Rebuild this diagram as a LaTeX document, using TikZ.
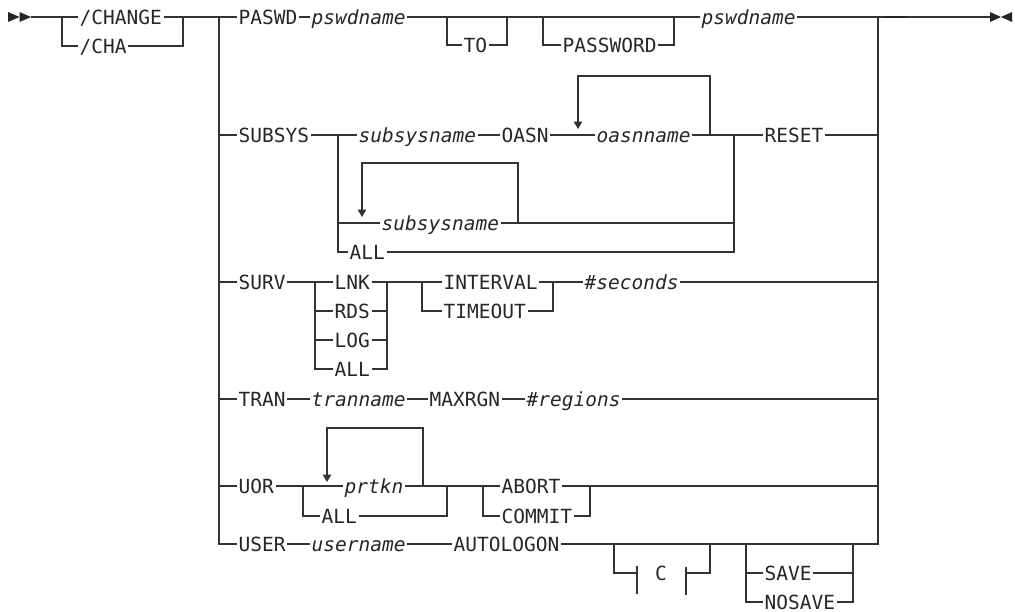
\documentclass[tikz,border=0pt]{standalone}
\usepackage{fontspec}
\setmainfont{DejaVu Sans Mono}
\usetikzlibrary{arrows.meta}
\begin{document}
\begin{tikzpicture}[x=1pt,y=-1pt,
  rr/.style={line width=1.2pt, draw=black!80, line cap=butt, line join=miter},
  loopar/.style={rr, -{Triangle[width=8.5pt,length=7.5pt]}},
  kw/.style={anchor=west, inner xsep=1.5pt, inner ysep=0pt, text height=14.2pt, text depth=0pt,
    text=black!85, font=\fontsize{19.5pt}{20pt}\selectfont},
  var/.style={kw, font=\fontsize{19.5pt}{20pt}\selectfont\itshape},
  endmark/.style={fill=black!85, draw=none}]
\useasboundingbox (0,0) rectangle (1015,611);

% ---- junction coordinates
\coordinate (jA) at (62,17);   \coordinate (jB) at (183,17);
\coordinate (jM) at (219,17);  \coordinate (jR) at (878,17);
\coordinate (jEnd) at (990,17);
\coordinate (tS) at (447,17);  \coordinate (tJ) at (507,17);
\coordinate (pS) at (543,17);  \coordinate (pJ) at (674,17);
\coordinate (sS) at (338,135); \coordinate (sJ) at (734,135);
\coordinate (oL) at (710,135); \coordinate (oT) at (578,76); \coordinate (oA) at (578,129);
\coordinate (s2R) at (518,223); \coordinate (s2T) at (362,163); \coordinate (s2A) at (362,217);
\coordinate (vS) at (315,282); \coordinate (vJ) at (387,282);
\coordinate (iS) at (422,282); \coordinate (iJ) at (553,282);
\coordinate (uS) at (303,486); \coordinate (uJ) at (447,486);
\coordinate (uR) at (423,486); \coordinate (uT) at (327,428); \coordinate (uA) at (327,482);
\coordinate (aS) at (483,486); \coordinate (aJ) at (590,486);
\coordinate (cS) at (614,544); \coordinate (cJ) at (710,544);
\coordinate (cbL) at (637,573); \coordinate (cbR) at (686,573);
\coordinate (svS) at (746,544); \coordinate (svJ) at (853,544);

% ---- nodes
\node[kw]  (change) at (78,17) {/CHANGE};
\node[kw]  (cha) at (78,46) {/CHA};
\node[kw]  (paswd) at (237,17) {PASWD};
\node[var] (pswd1) at (310,17) {pswdname};
\node[kw]  (to) at (462,45) {TO};
\node[kw]  (password) at (561,45) {PASSWORD};
\node[var] (pswd2) at (700,17) {pswdname};
\node[kw]  (subsys) at (237,135) {SUBSYS};
\node[var] (ssn1) at (357,135) {subsysname};
\node[kw]  (oasn) at (500,135) {OASN};
\node[var] (oasnname) at (595,135) {oasnname};
\node[kw]  (reset) at (763,135) {RESET};
\node[var] (ssn2) at (380,223) {subsysname};
\node[kw]  (sall) at (348,252) {ALL};
\node[kw]  (surv) at (237,282) {SURV};
\node[kw]  (lnk) at (333,282) {LNK};
\node[kw]  (rds) at (333,311) {RDS};
\node[kw]  (log) at (333,340) {LOG};
\node[kw]  (vall) at (333,369) {ALL};
\node[kw]  (interval) at (442,282) {INTERVAL};
\node[kw]  (timeout) at (442,311) {TIMEOUT};
\node[var] (seconds) at (583,282) {\#seconds};
\node[kw]  (tran) at (237,399) {TRAN};
\node[var] (tranname) at (310,399) {tranname};
\node[kw]  (maxrgn) at (428,399) {MAXRGN};
\node[var] (regions) at (525,399) {\#regions};
\node[kw]  (uor) at (237,486) {UOR};
\node[var] (prtkn) at (343,486) {prtkn};
\node[kw]  (uall) at (320,516) {ALL};
\node[kw]  (abort) at (500,486) {ABORT};
\node[kw]  (commit) at (500,516) {COMMIT};
\node[kw]  (user) at (237,544) {USER};
\node[var] (username) at (310,544) {username};
\node[kw]  (autologon) at (452,544) {AUTOLOGON};
\node[kw, anchor=center] (cc) at (661,573) {C};
\node[kw]  (save) at (763,573) {SAVE};
\node[kw]  (nosave) at (763,602) {NOSAVE};

% ---- start / end marks
\fill[endmark] (8,12) -- (19.5,17) -- (8,22) -- cycle;
\fill[endmark] (19.5,12) -- (31,17) -- (19.5,22) -- cycle;
\fill[endmark] (990,12) -- (1001,17) -- (990,22) -- cycle;
\fill[endmark] (1012,12) -- (1001,17) -- (1012,22) -- cycle;

% ---- command name
\draw[rr] (31,17) -- (jA) -- (change.west);
\draw[rr] (jA) |- (cha.west);
\draw[rr] (change.east) -- (jB) -- (jM) -- (paswd.west);
\draw[rr] (cha.east) -| (jB);
\draw[rr] (jM) |- (user.west);

% ---- PASWD
\draw[rr] (paswd.east) -- (pswd1.west);
\draw[rr] (pswd1.east) -- (pswd2.west);
\draw[rr] (tS) |- (to.west);
\draw[rr] (to.east) -| (tJ);
\draw[rr] (pS) |- (password.west);
\draw[rr] (password.east) -| (pJ);
\draw[rr] (pswd2.east) -- (jR) -- (jEnd);
\draw[line width=2.4pt, draw=black!85] (883,17) -- (907,17);
\draw[rr] (autologon.east) -| (jR);

% ---- SUBSYS
\draw[rr] (jM |- subsys.west) -- (subsys.west);
\draw[rr] (subsys.east) -- (sS) -- (ssn1.west);
\draw[rr] (ssn1.east) -- (oasn.west);
\draw[rr] (oasn.east) -- (oasnname.west);
\draw[rr] (oasnname.east) -- (sJ) -- (reset.west);
\draw[rr] (reset.east) -- (jR |- reset.east);
\draw[loopar] (oL) |- (oT) -- (oA);
\draw[rr] (sS) |- (sall.west);
\draw[rr] (sS |- ssn2.west) -- (ssn2.west);
\draw[rr] (ssn2.east) -- (sJ |- ssn2.east);
\draw[rr] (sall.east) -| (sJ);
\draw[loopar] (s2R) |- (s2T) -- (s2A);

% ---- SURV
\draw[rr] (jM |- surv.west) -- (surv.west);
\draw[rr] (surv.east) -- (vS) -- (lnk.west);
\draw[rr] (vS) |- (vall.west);
\draw[rr] (vS |- rds.west) -- (rds.west);
\draw[rr] (vS |- log.west) -- (log.west);
\draw[rr] (lnk.east) -- (vJ) -- (iS) -- (interval.west);
\draw[rr] (rds.east) -- (vJ |- rds.east);
\draw[rr] (log.east) -- (vJ |- log.east);
\draw[rr] (vall.east) -| (vJ);
\draw[rr] (iS) |- (timeout.west);
\draw[rr] (interval.east) -- (iJ) -- (seconds.west);
\draw[rr] (timeout.east) -| (iJ);
\draw[rr] (seconds.east) -- (jR |- seconds.east);

% ---- TRAN
\draw[rr] (jM |- tran.west) -- (tran.west);
\draw[rr] (tran.east) -- (tranname.west);
\draw[rr] (tranname.east) -- (maxrgn.west);
\draw[rr] (maxrgn.east) -- (regions.west);
\draw[rr] (regions.east) -- (jR |- regions.east);

% ---- UOR
\draw[rr] (jM |- uor.west) -- (uor.west);
\draw[rr] (uor.east) -- (uS) -- (prtkn.west);
\draw[rr] (uS) |- (uall.west);
\draw[rr] (prtkn.east) -- (uJ) -- (aS) -- (abort.west);
\draw[rr] (uall.east) -| (uJ);
\draw[loopar] (uR) |- (uT) -- (uA);
\draw[rr] (aS) |- (commit.west);
\draw[rr] (abort.east) -- (aJ) -- (jR |- aJ);
\draw[rr] (commit.east) -| (aJ);

% ---- USER
\draw[rr] (user.east) -- (username.west);
\draw[rr] (username.east) -- (autologon.west);
\draw[rr] (cS) |- (cbL);
\draw[rr] (637,566) -- (637,594);
\draw[rr] (686,567) -- (686,595);
\draw[rr] (cbR) -| (cJ);
\draw[rr] (svS) |- (nosave.west);
\draw[rr] (svS |- save.west) -- (save.west);
\draw[rr] (save.east) -- (svJ |- save.east);
\draw[rr] (nosave.east) -| (svJ);
\end{tikzpicture}
\end{document}
